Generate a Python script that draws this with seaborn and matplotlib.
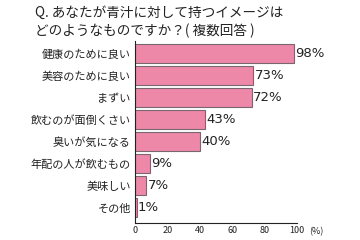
import matplotlib
matplotlib.use("Agg")
import matplotlib.pyplot as plt
import seaborn as sns
import pandas as pd

categories = ["健康のために良い", "美容のために良い", "まずい", "飲むのが面倒くさい",
              "臭いが気になる", "年配の人が飲むもの", "美味しい", "その他"]
values = [98, 73, 72, 43, 40, 9, 7, 1]
xticks = [0, 20, 40, 60, 80, 100]
title_lines = ["Q. あなたが青汁に対して持つイメージは", "どのようなものですか？( 複数回答 )"]

sns.set_theme(style="white")
plt.rcParams['font.family'] = ['Noto Sans CJK JP', 'DejaVu Sans']

df = pd.DataFrame({"cat": categories, "val": values})

fig = plt.figure(figsize=(3.6, 2.4), dpi=100)
ax = fig.add_axes([135/360, 1-223/240, (297-135)/360, (223-41)/240])

sns.barplot(data=df, x="val", y="cat", orient="h", color="#EE88A8",
            edgecolor="#7a6670", linewidth=0.8, width=0.86, saturation=1, ax=ax)

for i, v in enumerate(values):
    ax.text(v + 0.8, i, f"{v}%", va="center", ha="left", fontsize=9.5,
            color="#222222", family=['DejaVu Sans'])

ax.set_xlim(0, 100)
ax.set_ylim(7.7, -0.57)
ax.set_xticks(xticks)
ax.set_xticklabels([str(t) for t in xticks], fontsize=6.5, color="#222222")
ax.tick_params(axis='x', direction='in', length=3, width=0.8, color="#222222", pad=2)
ax.tick_params(axis='y', length=0, pad=3, labelsize=8, labelcolor="#222222")
ax.set_xlabel("")
ax.set_ylabel("")
for s in ["top", "right"]:
    ax.spines[s].set_visible(False)
for s in ["left", "bottom"]:
    ax.spines[s].set_color("#222222")
    ax.spines[s].set_linewidth(0.8)

fig.text(309/360, 1-232/240, "(%)", fontsize=6.5, color="#222222", va="center", ha="left")
fig.text(35/360, 1-13/240, title_lines[0], fontsize=9.8, color="#222222", va="center", ha="left")
fig.text(35/360, 1-31/240, title_lines[1], fontsize=9.8, color="#222222", va="center", ha="left")

fig.savefig("out.png", dpi=100)
